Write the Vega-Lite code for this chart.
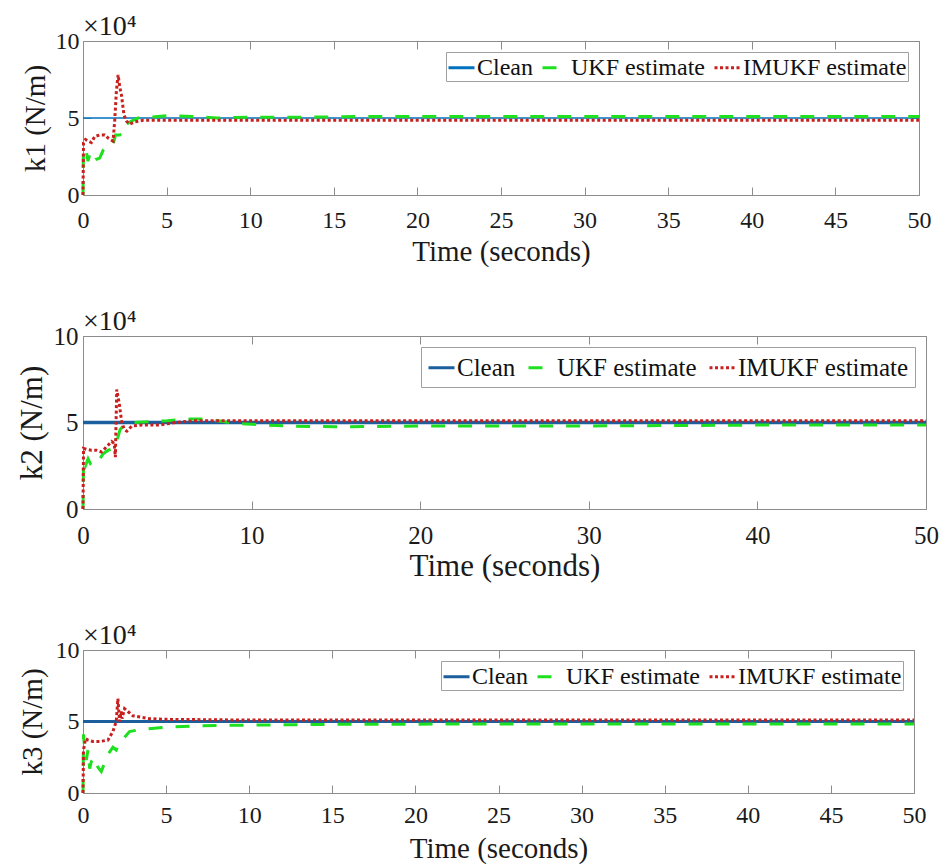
{
  "$schema": "https://vega.github.io/schema/vega-lite/v6.json",
  "padding": {"top": 13, "left": 16, "right": 5, "bottom": 4},
  "bounds": "flush",
  "spacing": 141,
  "resolve": {"scale": {"color": "independent", "strokeDash": "independent"}, "legend": {"color": "independent", "strokeDash": "independent"}},
  "datasets": {
    "k1": [
      {"t": 0, "v": 5, "s": "Clean"}, {"t": 50, "v": 5, "s": "Clean"},
      {"t": 0, "v": 0, "s": "UKF estimate"}, {"t": 0.02, "v": 2.6, "s": "UKF estimate"}, {"t": 0.1, "v": 2.3, "s": "UKF estimate"}, {"t": 0.2, "v": 2.8, "s": "UKF estimate"}, {"t": 0.3, "v": 2.2, "s": "UKF estimate"}, {"t": 0.4, "v": 2.6, "s": "UKF estimate"}, {"t": 0.55, "v": 2.1, "s": "UKF estimate"}, {"t": 0.75, "v": 2.3, "s": "UKF estimate"}, {"t": 1.0, "v": 2.4, "s": "UKF estimate"}, {"t": 1.2, "v": 2.9, "s": "UKF estimate"}, {"t": 1.35, "v": 3.1, "s": "UKF estimate"}, {"t": 1.6, "v": 3.1, "s": "UKF estimate"}, {"t": 1.8, "v": 3.3, "s": "UKF estimate"}, {"t": 1.95, "v": 3.9, "s": "UKF estimate"}, {"t": 2.2, "v": 3.9, "s": "UKF estimate"}, {"t": 2.45, "v": 4.0, "s": "UKF estimate"}, {"t": 2.6, "v": 4.6, "s": "UKF estimate"}, {"t": 2.9, "v": 4.8, "s": "UKF estimate"}, {"t": 3.3, "v": 5.0, "s": "UKF estimate"}, {"t": 4, "v": 5.05, "s": "UKF estimate"}, {"t": 5, "v": 5.15, "s": "UKF estimate"}, {"t": 6.5, "v": 5.1, "s": "UKF estimate"}, {"t": 8, "v": 5.0, "s": "UKF estimate"}, {"t": 10, "v": 5.05, "s": "UKF estimate"}, {"t": 13, "v": 5.05, "s": "UKF estimate"}, {"t": 17, "v": 5.1, "s": "UKF estimate"}, {"t": 25, "v": 5.1, "s": "UKF estimate"}, {"t": 35, "v": 5.1, "s": "UKF estimate"}, {"t": 50, "v": 5.1, "s": "UKF estimate"},
      {"t": 0, "v": 0, "s": "IMUKF estimate"}, {"t": 0.03, "v": 3.4, "s": "IMUKF estimate"}, {"t": 0.15, "v": 3.6, "s": "IMUKF estimate"}, {"t": 0.3, "v": 3.5, "s": "IMUKF estimate"}, {"t": 0.5, "v": 3.4, "s": "IMUKF estimate"}, {"t": 0.7, "v": 3.8, "s": "IMUKF estimate"}, {"t": 1.0, "v": 3.9, "s": "IMUKF estimate"}, {"t": 1.3, "v": 3.9, "s": "IMUKF estimate"}, {"t": 1.5, "v": 3.7, "s": "IMUKF estimate"}, {"t": 1.8, "v": 3.5, "s": "IMUKF estimate"}, {"t": 1.9, "v": 4.9, "s": "IMUKF estimate"}, {"t": 2.0, "v": 6.8, "s": "IMUKF estimate"}, {"t": 2.1, "v": 7.8, "s": "IMUKF estimate"}, {"t": 2.2, "v": 7.0, "s": "IMUKF estimate"}, {"t": 2.3, "v": 6.5, "s": "IMUKF estimate"}, {"t": 2.45, "v": 5.2, "s": "IMUKF estimate"}, {"t": 2.6, "v": 4.8, "s": "IMUKF estimate"}, {"t": 2.8, "v": 4.6, "s": "IMUKF estimate"}, {"t": 3.1, "v": 4.75, "s": "IMUKF estimate"}, {"t": 3.6, "v": 4.85, "s": "IMUKF estimate"}, {"t": 10, "v": 4.85, "s": "IMUKF estimate"}, {"t": 20, "v": 4.85, "s": "IMUKF estimate"}, {"t": 35, "v": 4.85, "s": "IMUKF estimate"}, {"t": 50, "v": 4.85, "s": "IMUKF estimate"}
    ],
    "k2": [
      {"t": 0, "v": 5, "s": "Clean"}, {"t": 50, "v": 5, "s": "Clean"},
      {"t": 0, "v": 0, "s": "UKF estimate"}, {"t": 0.03, "v": 2.8, "s": "UKF estimate"}, {"t": 0.15, "v": 2.5, "s": "UKF estimate"}, {"t": 0.3, "v": 2.9, "s": "UKF estimate"}, {"t": 0.45, "v": 2.6, "s": "UKF estimate"}, {"t": 0.6, "v": 2.5, "s": "UKF estimate"}, {"t": 0.8, "v": 2.6, "s": "UKF estimate"}, {"t": 1.0, "v": 2.9, "s": "UKF estimate"}, {"t": 1.2, "v": 3.2, "s": "UKF estimate"}, {"t": 1.5, "v": 3.4, "s": "UKF estimate"}, {"t": 1.8, "v": 3.5, "s": "UKF estimate"}, {"t": 2.0, "v": 3.9, "s": "UKF estimate"}, {"t": 2.2, "v": 4.6, "s": "UKF estimate"}, {"t": 2.5, "v": 4.9, "s": "UKF estimate"}, {"t": 3.0, "v": 5.0, "s": "UKF estimate"}, {"t": 4.0, "v": 5.05, "s": "UKF estimate"}, {"t": 5.0, "v": 5.1, "s": "UKF estimate"}, {"t": 6.0, "v": 5.2, "s": "UKF estimate"}, {"t": 7.0, "v": 5.2, "s": "UKF estimate"}, {"t": 8.0, "v": 5.1, "s": "UKF estimate"}, {"t": 9.0, "v": 4.95, "s": "UKF estimate"}, {"t": 10, "v": 4.9, "s": "UKF estimate"}, {"t": 12, "v": 4.8, "s": "UKF estimate"}, {"t": 15, "v": 4.75, "s": "UKF estimate"}, {"t": 20, "v": 4.8, "s": "UKF estimate"}, {"t": 25, "v": 4.8, "s": "UKF estimate"}, {"t": 30, "v": 4.8, "s": "UKF estimate"}, {"t": 40, "v": 4.85, "s": "UKF estimate"}, {"t": 50, "v": 4.85, "s": "UKF estimate"},
      {"t": 0, "v": 0, "s": "IMUKF estimate"}, {"t": 0.03, "v": 3.5, "s": "IMUKF estimate"}, {"t": 0.2, "v": 3.45, "s": "IMUKF estimate"}, {"t": 0.5, "v": 3.4, "s": "IMUKF estimate"}, {"t": 0.8, "v": 3.4, "s": "IMUKF estimate"}, {"t": 1.1, "v": 3.3, "s": "IMUKF estimate"}, {"t": 1.4, "v": 3.6, "s": "IMUKF estimate"}, {"t": 1.7, "v": 3.9, "s": "IMUKF estimate"}, {"t": 1.85, "v": 3.8, "s": "IMUKF estimate"}, {"t": 1.92, "v": 3.0, "s": "IMUKF estimate"}, {"t": 2.0, "v": 6.9, "s": "IMUKF estimate"}, {"t": 2.15, "v": 6.1, "s": "IMUKF estimate"}, {"t": 2.3, "v": 5.0, "s": "IMUKF estimate"}, {"t": 2.45, "v": 4.6, "s": "IMUKF estimate"}, {"t": 2.6, "v": 4.5, "s": "IMUKF estimate"}, {"t": 2.9, "v": 4.8, "s": "IMUKF estimate"}, {"t": 3.5, "v": 4.85, "s": "IMUKF estimate"}, {"t": 4.5, "v": 4.85, "s": "IMUKF estimate"}, {"t": 5.5, "v": 5.0, "s": "IMUKF estimate"}, {"t": 6.5, "v": 5.1, "s": "IMUKF estimate"}, {"t": 10, "v": 5.1, "s": "IMUKF estimate"}, {"t": 20, "v": 5.1, "s": "IMUKF estimate"}, {"t": 35, "v": 5.1, "s": "IMUKF estimate"}, {"t": 50, "v": 5.1, "s": "IMUKF estimate"}
    ],
    "k3": [
      {"t": 0, "v": 5, "s": "Clean"}, {"t": 50, "v": 5, "s": "Clean"},
      {"t": 0, "v": 0, "s": "UKF estimate"}, {"t": 0.03, "v": 4.1, "s": "UKF estimate"}, {"t": 0.1, "v": 3.0, "s": "UKF estimate"}, {"t": 0.2, "v": 2.3, "s": "UKF estimate"}, {"t": 0.3, "v": 3.0, "s": "UKF estimate"}, {"t": 0.4, "v": 1.7, "s": "UKF estimate"}, {"t": 0.5, "v": 2.2, "s": "UKF estimate"}, {"t": 0.7, "v": 2.5, "s": "UKF estimate"}, {"t": 0.9, "v": 1.8, "s": "UKF estimate"}, {"t": 1.1, "v": 1.5, "s": "UKF estimate"}, {"t": 1.3, "v": 2.1, "s": "UKF estimate"}, {"t": 1.5, "v": 2.7, "s": "UKF estimate"}, {"t": 1.8, "v": 3.2, "s": "UKF estimate"}, {"t": 2.0, "v": 3.0, "s": "UKF estimate"}, {"t": 2.2, "v": 3.5, "s": "UKF estimate"}, {"t": 2.5, "v": 3.9, "s": "UKF estimate"}, {"t": 2.8, "v": 4.3, "s": "UKF estimate"}, {"t": 3.5, "v": 4.45, "s": "UKF estimate"}, {"t": 5, "v": 4.6, "s": "UKF estimate"}, {"t": 7, "v": 4.7, "s": "UKF estimate"}, {"t": 10, "v": 4.75, "s": "UKF estimate"}, {"t": 15, "v": 4.8, "s": "UKF estimate"}, {"t": 25, "v": 4.83, "s": "UKF estimate"}, {"t": 50, "v": 4.83, "s": "UKF estimate"},
      {"t": 0, "v": 0, "s": "IMUKF estimate"}, {"t": 0.03, "v": 3.0, "s": "IMUKF estimate"}, {"t": 0.15, "v": 3.8, "s": "IMUKF estimate"}, {"t": 0.3, "v": 3.7, "s": "IMUKF estimate"}, {"t": 0.6, "v": 3.6, "s": "IMUKF estimate"}, {"t": 1.0, "v": 3.6, "s": "IMUKF estimate"}, {"t": 1.5, "v": 3.7, "s": "IMUKF estimate"}, {"t": 1.8, "v": 4.3, "s": "IMUKF estimate"}, {"t": 2.0, "v": 5.0, "s": "IMUKF estimate"}, {"t": 2.1, "v": 6.6, "s": "IMUKF estimate"}, {"t": 2.2, "v": 5.0, "s": "IMUKF estimate"}, {"t": 2.3, "v": 5.7, "s": "IMUKF estimate"}, {"t": 2.35, "v": 5.2, "s": "IMUKF estimate"}, {"t": 2.5, "v": 5.9, "s": "IMUKF estimate"}, {"t": 2.7, "v": 5.7, "s": "IMUKF estimate"}, {"t": 3.0, "v": 5.4, "s": "IMUKF estimate"}, {"t": 4.0, "v": 5.2, "s": "IMUKF estimate"}, {"t": 5.0, "v": 5.15, "s": "IMUKF estimate"}, {"t": 10, "v": 5.1, "s": "IMUKF estimate"}, {"t": 50, "v": 5.1, "s": "IMUKF estimate"}
    ]
  },
  "vconcat": [
    {
      "width": 836, "height": 154,
      "data": {"name": "k1"},
      "title": {"text": "×10⁴", "offset": -12},
      "layer": [
        {"transform": [{"filter": "datum.s === 'Clean'"}],
         "mark": {"type": "line", "strokeWidth": 1.5},
         "encoding": {
           "x": {"field": "t", "type": "quantitative", "scale": {"domain": [0, 50], "nice": false}, "axis": {"orient": "bottom", "values": [0,5,10,15,20,25,30,35,40,45,50], "title": "Time (seconds)", "labelPadding": 21, "titlePadding": 5}},
           "y": {"field": "v", "type": "quantitative", "scale": {"domain": [0, 10], "nice": false}, "axis": {"orient": "left", "values": [0,5,10], "title": "k1 (N/m)", "labelPadding": 12, "titlePadding": 5}},
           "color": {"field": "s", "type": "nominal", "scale": {"domain": ["Clean", "UKF estimate", "IMUKF estimate"], "range": ["#0072BD", "#1ee01e", "#c8201e"]}, "legend": {"title": null}},
           "strokeDash": {"field": "s", "type": "nominal", "scale": {"domain": ["Clean", "UKF estimate", "IMUKF estimate"], "range": [[1, 0], [14, 13], [3, 2.5]]}, "legend": {"title": null}}
         }},
        {"transform": [{"filter": "datum.s === 'UKF estimate'"}],
         "mark": {"type": "line", "strokeWidth": 3},
         "encoding": {
           "x": {"field": "t", "type": "quantitative", "axis": {"orient": "top", "values": [0,5,10,15,20,25,30,35,40,45,50], "labels": false, "title": null}},
           "y": {"field": "v", "type": "quantitative", "axis": {"orient": "right", "values": [0,5,10], "labels": false, "title": null}},
           "color": {"field": "s", "type": "nominal", "legend": {"title": null}},
           "strokeDash": {"field": "s", "type": "nominal", "legend": {"title": null}}
         }},
        {"transform": [{"filter": "datum.s === 'IMUKF estimate'"}],
         "mark": {"type": "line", "strokeWidth": 3},
         "encoding": {
           "x": {"field": "t", "type": "quantitative", "axis": null},
           "y": {"field": "v", "type": "quantitative", "axis": null},
           "color": {"field": "s", "type": "nominal", "legend": {"title": null}},
           "strokeDash": {"field": "s", "type": "nominal", "legend": {"title": null}}
         }}
      ],
      "resolve": {"axis": {"x": "independent", "y": "independent"}}
    },
    {
      "width": 843, "height": 173,
      "data": {"name": "k2"},
      "title": {"text": "×10⁴", "offset": -12},
      "layer": [
        {"transform": [{"filter": "datum.s === 'Clean'"}],
         "mark": {"type": "line", "strokeWidth": 3.5},
         "encoding": {
           "x": {"field": "t", "type": "quantitative", "scale": {"domain": [0, 50], "nice": false}, "axis": {"orient": "bottom", "values": [0,10,20,30,40,50], "title": "Time (seconds)", "labelPadding": 22, "titlePadding": 3, "labelFontSize": 25, "titleFontSize": 31}},
           "y": {"field": "v", "type": "quantitative", "scale": {"domain": [0, 10], "nice": false}, "axis": {"orient": "left", "values": [0,5,10], "title": "k2 (N/m)", "labelPadding": 13, "titlePadding": 5, "labelFontSize": 25, "titleFontSize": 31}},
           "color": {"field": "s", "type": "nominal", "scale": {"domain": ["Clean", "UKF estimate", "IMUKF estimate"], "range": ["#1c5f9e", "#1ee01e", "#c8201e"]}, "legend": {"title": null, "padding": 6, "labelFontSize": 25, "columnPadding": 6}},
           "strokeDash": {"field": "s", "type": "nominal", "scale": {"domain": ["Clean", "UKF estimate", "IMUKF estimate"], "range": [[1, 0], [14, 13], [3, 2.5]]}, "legend": {"title": null, "padding": 6, "labelFontSize": 25, "columnPadding": 6}}
         }},
        {"transform": [{"filter": "datum.s === 'UKF estimate'"}],
         "mark": {"type": "line", "strokeWidth": 3},
         "encoding": {
           "x": {"field": "t", "type": "quantitative", "axis": {"orient": "top", "values": [0,10,20,30,40,50], "labels": false, "title": null}},
           "y": {"field": "v", "type": "quantitative", "axis": {"orient": "right", "values": [0,5,10], "labels": false, "title": null}},
           "color": {"field": "s", "type": "nominal", "legend": {"title": null, "padding": 6, "labelFontSize": 25, "columnPadding": 6}},
           "strokeDash": {"field": "s", "type": "nominal", "legend": {"title": null, "padding": 6, "labelFontSize": 25, "columnPadding": 6}}
         }},
        {"transform": [{"filter": "datum.s === 'IMUKF estimate'"}],
         "mark": {"type": "line", "strokeWidth": 3},
         "encoding": {
           "x": {"field": "t", "type": "quantitative", "axis": null},
           "y": {"field": "v", "type": "quantitative", "axis": null},
           "color": {"field": "s", "type": "nominal", "legend": {"title": null, "padding": 6, "labelFontSize": 25, "columnPadding": 6}},
           "strokeDash": {"field": "s", "type": "nominal", "legend": {"title": null, "padding": 6, "labelFontSize": 25, "columnPadding": 6}}
         }}
      ],
      "resolve": {"axis": {"x": "independent", "y": "independent"}}
    },
    {
      "width": 831, "height": 143,
      "data": {"name": "k3"},
      "title": {"text": "×10⁴", "offset": -12},
      "layer": [
        {"transform": [{"filter": "datum.s === 'Clean'"}],
         "mark": {"type": "line", "strokeWidth": 3},
         "encoding": {
           "x": {"field": "t", "type": "quantitative", "scale": {"domain": [0, 50], "nice": false}, "axis": {"orient": "bottom", "values": [0,5,10,15,20,25,30,35,40,45,50], "title": "Time (seconds)", "labelPadding": 18, "titlePadding": 7}},
           "y": {"field": "v", "type": "quantitative", "scale": {"domain": [0, 10], "nice": false}, "axis": {"orient": "left", "values": [0,5,10], "title": "k3 (N/m)", "labelPadding": 12, "titlePadding": 8}},
           "color": {"field": "s", "type": "nominal", "scale": {"domain": ["Clean", "UKF estimate", "IMUKF estimate"], "range": ["#1c5f9e", "#1ee01e", "#c8201e"]}, "legend": {"title": null}},
           "strokeDash": {"field": "s", "type": "nominal", "scale": {"domain": ["Clean", "UKF estimate", "IMUKF estimate"], "range": [[1, 0], [14, 13], [3, 2.5]]}, "legend": {"title": null}}
         }},
        {"transform": [{"filter": "datum.s === 'UKF estimate'"}],
         "mark": {"type": "line", "strokeWidth": 3},
         "encoding": {
           "x": {"field": "t", "type": "quantitative", "axis": {"orient": "top", "values": [0,5,10,15,20,25,30,35,40,45,50], "labels": false, "title": null}},
           "y": {"field": "v", "type": "quantitative", "axis": {"orient": "right", "values": [0,5,10], "labels": false, "title": null}},
           "color": {"field": "s", "type": "nominal", "legend": {"title": null}},
           "strokeDash": {"field": "s", "type": "nominal", "legend": {"title": null}}
         }},
        {"transform": [{"filter": "datum.s === 'IMUKF estimate'"}],
         "mark": {"type": "line", "strokeWidth": 3},
         "encoding": {
           "x": {"field": "t", "type": "quantitative", "axis": null},
           "y": {"field": "v", "type": "quantitative", "axis": null},
           "color": {"field": "s", "type": "nominal", "legend": {"title": null}},
           "strokeDash": {"field": "s", "type": "nominal", "legend": {"title": null}}
         }}
      ],
      "resolve": {"axis": {"x": "independent", "y": "independent"}}
    }
  ],
  "config": {
    "view": {"stroke": null},
    "font": "Liberation Serif",
    "axis": {"labelFont": "Liberation Serif", "titleFont": "Liberation Serif", "labelColor": "#1a1a1a", "titleColor": "#1a1a1a", "titleFontWeight": "normal", "domainColor": "#8c8c8c", "tickColor": "#8c8c8c", "grid": false, "tickSize": -8, "labelFontSize": 24, "titleFontSize": 29, "labelFlush": false, "labelOverlap": false},
    "legend": {"orient": "top-right", "direction": "horizontal", "offset": 11, "strokeColor": "#a0a0a0", "fillColor": "white", "padding": 1, "labelFont": "Liberation Serif", "labelFontSize": 24, "labelColor": "#111111", "labelLimit": 0, "symbolType": "stroke", "symbolSize": 676, "symbolStrokeWidth": 3, "labelOffset": 1, "columnPadding": 3},
    "title": {"font": "Liberation Serif", "fontWeight": "normal", "fontSize": 28, "color": "#1a1a1a", "anchor": "start", "frame": "group"}
  }
}
